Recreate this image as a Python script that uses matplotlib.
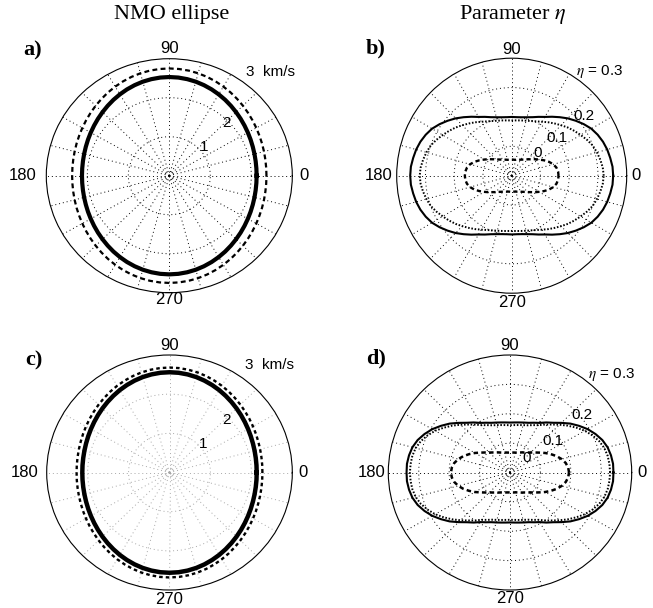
import numpy as np
import matplotlib
matplotlib.use('Agg')
import matplotlib.pyplot as plt

plt.rcParams['font.family'] = ['Liberation Sans', 'DejaVu Sans']
plt.rcParams['mathtext.fontset'] = 'stix'

############################################################
# Data: one quadrant (azimuth 0..90 deg, every 5 deg), the curves are symmetric

azimuth = np.arange(0, 91, 5)

# NMO velocity [km/s]
vnmo_a_solid = [2.130, 2.132, 2.139, 2.151, 2.167, 2.188, 2.212, 2.240, 2.271, 2.304,
                2.339, 2.375, 2.409, 2.442, 2.471, 2.496, 2.514, 2.526, 2.530]
vnmo_a_dashed = [2.370, 2.372, 2.379, 2.391, 2.407, 2.426, 2.450, 2.477, 2.507, 2.539,
                 2.572, 2.606, 2.638, 2.669, 2.696, 2.719, 2.736, 2.746, 2.750]
vnmo_c_solid = [2.130, 2.133, 2.140, 2.152, 2.169, 2.191, 2.217, 2.247, 2.280, 2.316,
                2.353, 2.391, 2.429, 2.464, 2.496, 2.523, 2.543, 2.556, 2.560]
vnmo_c_dashed = [2.270, 2.273, 2.280, 2.292, 2.308, 2.330, 2.355, 2.384, 2.415, 2.450,
                 2.485, 2.522, 2.557, 2.590, 2.620, 2.645, 2.664, 2.676, 2.680]

# anellipticity parameter eta
eta_b_solid = [0.253, 0.252, 0.248, 0.244, 0.238, 0.230, 0.220, 0.206, 0.191, 0.176,
               0.160, 0.145, 0.131, 0.121, 0.112, 0.106, 0.102, 0.100, 0.100]
eta_b_dotted = [0.220, 0.218, 0.213, 0.207, 0.200, 0.189, 0.177, 0.166, 0.155, 0.143,
                0.132, 0.122, 0.112, 0.104, 0.098, 0.094, 0.091, 0.089, 0.088]
eta_b_dashed = [0.063, 0.062, 0.058, 0.050, 0.038, 0.024, 0.010, -0.002, -0.013, -0.021,
                -0.028, -0.033, -0.037, -0.040, -0.042, -0.044, -0.045, -0.045, -0.045]
eta_d_solid = [0.240, 0.240, 0.237, 0.232, 0.223, 0.210, 0.195, 0.177, 0.159, 0.139,
               0.121, 0.108, 0.095, 0.087, 0.080, 0.076, 0.073, 0.071, 0.070]
eta_d_dotted = [0.229, 0.228, 0.226, 0.221, 0.212, 0.199, 0.184, 0.166, 0.148, 0.130,
                0.113, 0.099, 0.086, 0.078, 0.071, 0.067, 0.064, 0.062, 0.061]
eta_d_dashed = [0.094, 0.092, 0.086, 0.076, 0.063, 0.048, 0.033, 0.018, 0.006, -0.004,
                -0.011, -0.017, -0.021, -0.025, -0.028, -0.030, -0.031, -0.032, -0.032]

vel_rings = [1, 2]
vel_ring_labels = ['1', '2', '3  km/s']
eta_rings = [0.0, 0.1, 0.2]
eta_ring_labels = ['0', '0.1', '0.2', r'$\eta$ = 0.3']

theta_ticks = np.arange(0, 360, 15)
cardinal = [0, 90, 180, 270]


def full_circle(quarter):
    # 0..90 -> 0..360 using the mirror symmetry of the curves
    half = list(quarter) + list(quarter)[-2::-1]
    return np.array(half + half[1:])


phi = np.deg2rad(np.arange(0, 361, 5))

############################################################
# Plotting

W, H = 653, 608
fig = plt.figure(figsize=(W / 100, H / 100), dpi=100)


def polar_panel(left, top, right, bottom, rmin, rmax, rings, grid_color, lab_dist):
    rect = [left / W, 1 - bottom / H, (right - left) / W, (bottom - top) / H]
    ax = fig.add_axes(rect, projection='polar')
    ax.set_aspect('auto')
    ax.set_rlim(rmin, rmax)
    ax.set_rgrids(rings, labels=[''] * len(rings))
    ax.set_thetagrids(theta_ticks, labels=[''] * len(theta_ticks))
    ax.grid(True, color=grid_color, linestyle=(0, (1, 3)), lw=0.7)
    ax.spines['polar'].set_linewidth(0.8)
    ax.tick_params(axis='both', length=0)
    # azimuth labels just outside the rim
    for th, d in zip(cardinal, lab_dist):
        ax.text(np.deg2rad(th), rmin + d * (rmax - rmin), str(th), ha='center', va='center',
                fontsize=12, clip_on=False)
    return ax


def ring_labels(ax, labels, spots):
    for s, (th, r) in zip(labels, spots):
        ha = 'left' if 'km' in s else 'center'
        ax.text(np.deg2rad(th), r, s, ha=ha, va='center', fontsize=11)


## a) NMO ellipse
ax = polar_panel(46.3, 58.7, 292.3, 292.7, 0, 3, vel_rings, 'k', [1.095, 1.083, 1.189, 1.062])
ax.plot(phi, full_circle(vnmo_a_dashed), c='k', lw=1.6, ls=(0, (2.2, 1.5)))
ax.plot(phi, full_circle(vnmo_a_solid), c='k', lw=3.0)
ring_labels(ax, vel_ring_labels, [(41, 1.12), (44, 1.95), (55, 3.25)])

## b) eta
ax = polar_panel(396.7, 58.2, 626.7, 293.2, -0.1, 0.3, eta_rings, 'k', [1.081, 1.078, 1.160, 1.081])
ax.plot(phi, full_circle(eta_b_dashed), c='k', lw=1.7, ls=(0, (1.8, 1.3)))
ax.plot(phi, full_circle(eta_b_dotted), c='k', lw=1.4, ls=(0, (0.8, 0.9)))
ax.plot(phi, full_circle(eta_b_solid), c='k', lw=1.5)
ring_labels(ax, eta_ring_labels, [(40, 0.019), (39, 0.102), (39, 0.224), (49, 0.368)])

## c) NMO ellipse
ax = polar_panel(46.7, 355, 292.3, 590, 0, 3, vel_rings, '#a8a8a8', [1.085, 1.085, 1.177, 1.080])
ax.plot(phi, full_circle(vnmo_c_dashed), c='k', lw=1.7, ls=(0, (1.5, 1.3)))
ax.plot(phi, full_circle(vnmo_c_solid), c='k', lw=3.2)
ring_labels(ax, vel_ring_labels, [(41, 1.10), (44, 1.93), (56, 3.30)])

## d) eta
ax = polar_panel(388.3, 355, 631.7, 590, -0.1, 0.3, eta_rings, 'k', [1.082, 1.085, 1.136, 1.074])
ax.plot(phi, full_circle(eta_d_dashed), c='k', lw=1.8, ls=(0, (1.8, 1.3)))
ax.plot(phi, full_circle(eta_d_dotted), c='k', lw=1.4, ls=(0, (0.8, 0.9)))
ax.plot(phi, full_circle(eta_d_solid), c='k', lw=1.5)
ring_labels(ax, eta_ring_labels, [(42, -0.026), (37, 0.078), (40, 0.207), (45, 0.372)])

## titles and panel letters
serif = 'Liberation Serif'
fig.text(172 / W, 1 - 15 / H, 'NMO ellipse', family=serif, fontsize=16, ha='center', va='center')
fig.text(513 / W, 1 - 15 / H, r'Parameter $\eta$', family=serif, fontsize=16, ha='center', va='center')
for s, x, y in [('a)', 33, 50), ('b)', 376, 48), ('c)', 34, 360), ('d)', 376, 358)]:
    fig.text(x / W, 1 - y / H, s, family=serif, fontsize=16, fontweight='bold', ha='center', va='center')

fig.savefig('out.png', dpi=100)
